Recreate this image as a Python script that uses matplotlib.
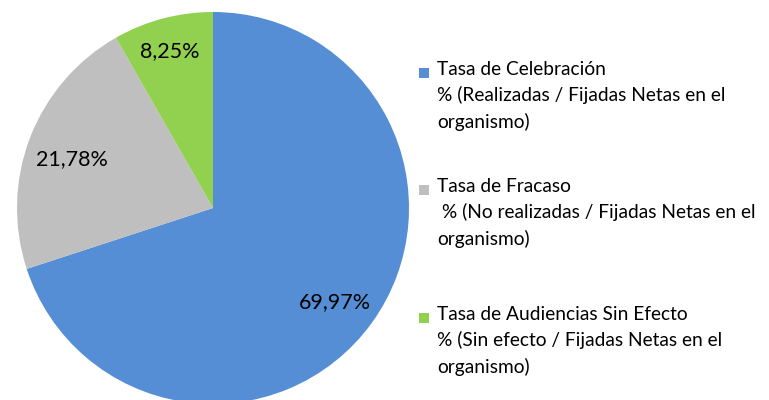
import matplotlib.pyplot as plt
from matplotlib.patches import Rectangle
import numpy as np

plt.rcParams['font.family'] = ['Lato', 'DejaVu Sans']

# data
shares = [69.97, 21.78, 8.25]
colors = ["#558ED5", "#BFBFBF", "#92D050"]
legend_titles = ["Tasa de Celebración", "Tasa de Fracaso", "Tasa de Audiencias Sin Efecto"]
legend_subs = ["% (Realizadas / Fijadas Netas en el\norganismo)",
               " % (No realizadas / Fijadas Netas en el\norganismo)",
               "% (Sin efecto / Fijadas Netas en el\norganismo)"]
label_dist = [0.77, 0.77, 0.86]

W, H = 769, 400
fig = plt.figure(figsize=(W / 100, H / 100), dpi=100)

cx, cy, r = 213, 208, 196
ax = fig.add_axes([(cx - r) / W, (H - cy - r) / H, 2 * r / W, 2 * r / H])
ax.axis('off')

wedges, _ = ax.pie(shares, colors=colors, startangle=90, counterclock=False,
                   radius=1, wedgeprops=dict(linewidth=0))
for w, v, d in zip(wedges, shares, label_dist):
    ang = np.deg2rad((w.theta1 + w.theta2) / 2)
    ax.text(d * np.cos(ang), d * np.sin(ang) - 0.03, "{:.2f}%".format(v).replace('.', ','),
            ha='center', va='center', fontsize=15.5, color='black')
ax.set_xlim(-1, 1)
ax.set_ylim(-1, 1)

# legend drawn by hand so the marker sits on the first line
marker_y = [73, 190, 318]
for my, c, t, s in zip(marker_y, colors, legend_titles, legend_subs):
    fig.add_artist(Rectangle((419 / W, 1 - (my + 5) / H), 10 / W, 10 / H,
                             transform=fig.transFigure, color=c, lw=0))
    fig.text(437 / W, 1 - (my - 12) / H, t + "\n" + s, ha='left', va='top',
             fontsize=13.8, linespacing=1.55, transform=fig.transFigure)

fig.savefig("out.png", dpi=100)
